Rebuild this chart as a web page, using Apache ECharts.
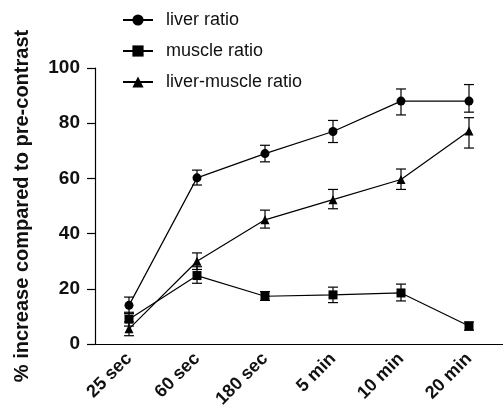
<!DOCTYPE html>
<html>
<head>
<meta charset="utf-8">
<script src="https://cdn.jsdelivr.net/npm/echarts@6/dist/echarts.min.js"></script>
<style>
  html, body { margin: 0; padding: 0; background: #fff; }
  #chart { width: 503px; height: 417px; }
</style>
</head>
<body>
<div id="chart"></div>
<script>
const categories = ['25 sec', '60 sec', '180 sec', '5 min', '10 min', '20 min'];

const liverRatio = [14, 60.2, 69, 77, 88, 88];
const liverLow = [11, 57.6, 66, 73, 83, 84];
const liverHigh = [17, 63, 72, 81, 92.4, 94];

const muscleRatio = [9, 24.8, 17.3, 17.8, 18.5, 6.5];
const muscleLow = [6.5, 22, 15.8, 15, 15.6, 5];
const muscleHigh = [11.5, 28, 19, 20.6, 21.7, 8];

const lmRatio = [5.5, 30, 45, 52.3, 59.6, 77.2];
const lmLow = [3, 27, 42, 49, 56, 71];
const lmHigh = [8, 33, 48.5, 56, 63.4, 82];

const chart = echarts.init(document.getElementById('chart'));

function errData(low, high) {
  return categories.map((c, i) => [i, low[i], high[i]]);
}

function renderErr(params, api) {
  const x = api.value(0);
  const lo = api.coord([x, api.value(1)]);
  const hi = api.coord([x, api.value(2)]);
  const w = 5;
  const style = { stroke: '#000', lineWidth: 1.2, fill: null };
  return {
    type: 'group',
    children: [
      { type: 'line', shape: { x1: lo[0], y1: lo[1], x2: hi[0], y2: hi[1] }, style },
      { type: 'line', shape: { x1: lo[0] - w, y1: lo[1], x2: lo[0] + w, y2: lo[1] }, style },
      { type: 'line', shape: { x1: hi[0] - w, y1: hi[1], x2: hi[0] + w, y2: hi[1] }, style }
    ]
  };
}

const lineBase = {
  type: 'line',
  symbolSize: 9,
  color: '#000',
  lineStyle: { color: '#000', width: 1.2 },
  itemStyle: { color: '#000' },
  z: 3
};

const option = {
  animation: false,
  grid: { left: 95, top: 68, width: 414, height: 276 },
  legend: {
    orient: 'vertical',
    left: 117,
    top: 6,
    itemWidth: 30,
    itemHeight: 14,
    itemGap: 13,
    textStyle: {
      fontFamily: 'Liberation Sans',
      fontSize: 18,
      lineHeight: 18,
      color: '#111',
      padding: [0, 0, 0, 8]
    },
    data: ['liver ratio', 'muscle ratio', 'liver-muscle ratio']
  },
  xAxis: {
    type: 'category',
    data: categories,
    boundaryGap: true,
    axisLine: { lineStyle: { color: '#000', width: 1.2 } },
    axisTick: { alignWithLabel: true, length: 8, lineStyle: { color: '#000', width: 1.2 } },
    axisLabel: {
      rotate: 45,
      margin: 12,
      color: '#111',
      fontFamily: 'Liberation Sans',
      fontWeight: 'bold',
      fontSize: 18
    }
  },
  yAxis: {
    type: 'value',
    min: 0,
    max: 100,
    interval: 20,
    name: '% increase compared to pre-contrast',
    nameLocation: 'middle',
    nameGap: 63,
    nameTextStyle: { fontFamily: 'Liberation Sans', fontWeight: 'bold', fontSize: 20, color: '#111' },
    splitLine: { show: false },
    axisLine: { show: true, lineStyle: { color: '#000', width: 1.2 } },
    axisTick: { show: true, length: 8, lineStyle: { color: '#000', width: 1.2 } },
    axisLabel: {
      margin: 15,
      color: '#111',
      fontFamily: 'Liberation Sans',
      fontWeight: 'bold',
      fontSize: 19
    }
  },
  series: [
    Object.assign({}, lineBase, { name: 'liver ratio', symbol: 'circle', data: liverRatio }),
    Object.assign({}, lineBase, { name: 'muscle ratio', symbol: 'rect', data: muscleRatio }),
    Object.assign({}, lineBase, { name: 'liver-muscle ratio', symbol: 'triangle', data: lmRatio }),
    { type: 'custom', renderItem: renderErr, data: errData(liverLow, liverHigh), z: 2 },
    { type: 'custom', renderItem: renderErr, data: errData(muscleLow, muscleHigh), z: 2 },
    { type: 'custom', renderItem: renderErr, data: errData(lmLow, lmHigh), z: 2 }
  ]
};

chart.setOption(option);
</script>
</body>
</html>
